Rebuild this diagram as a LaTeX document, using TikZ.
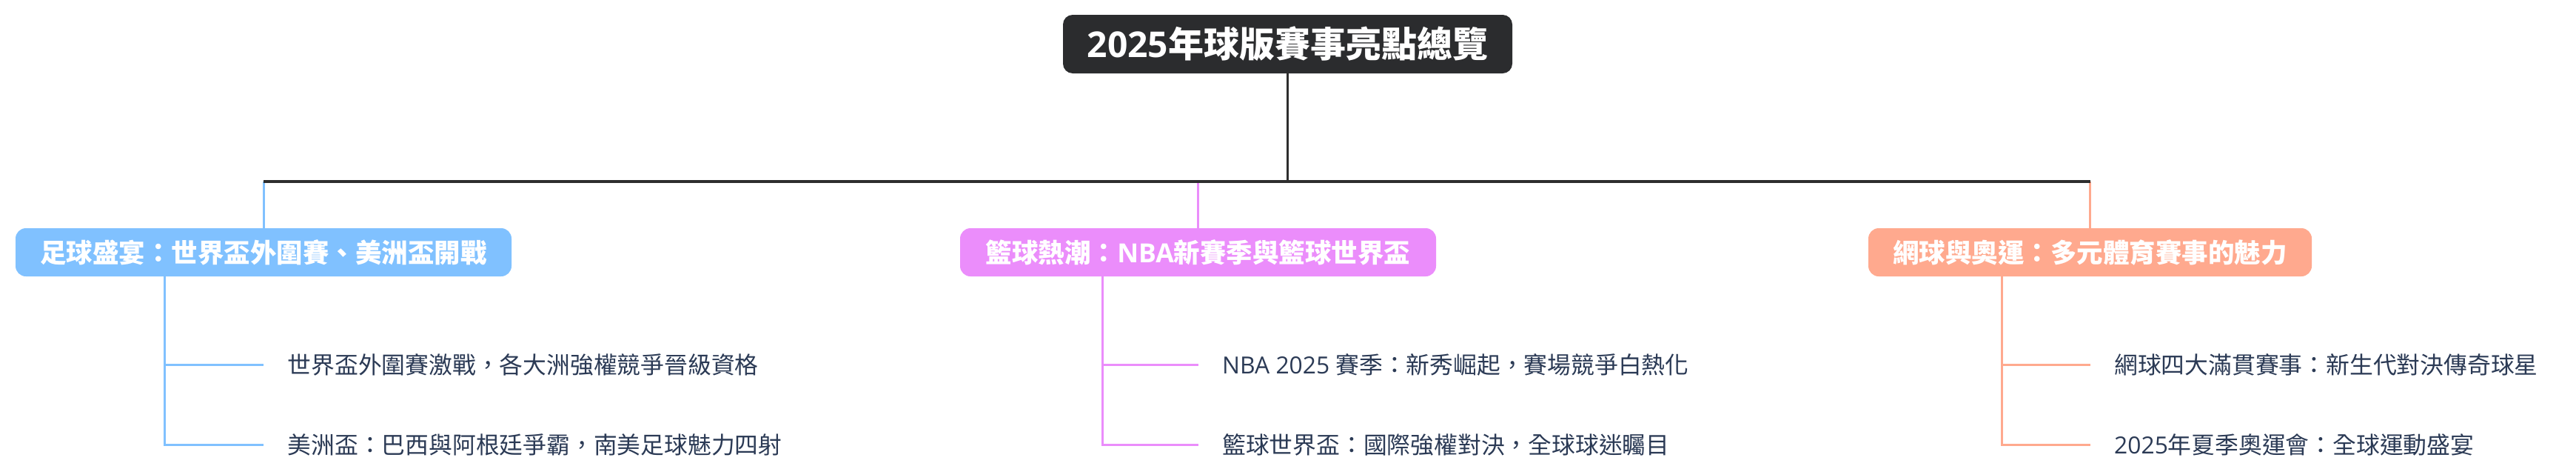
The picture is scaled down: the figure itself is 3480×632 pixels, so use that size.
\documentclass[tikz,border=0pt]{standalone}
\usepackage{fontspec}
\setmainfont{Noto Sans CJK TC}[Script=CJK, Language=Chinese Traditional]
\newfontfamily\lat{Open Sans}
\definecolor{rootc}{HTML}{2B2C2E}
\definecolor{barc}{HTML}{2E2E2E}
\definecolor{bluec}{HTML}{80C1FF}
\definecolor{pinkc}{HTML}{EB8DFB}
\definecolor{salc}{HTML}{FFA98E}
\definecolor{leafc}{HTML}{2B3A55}
\tikzset{
  rootbox/.style={fill=rootc, rounded corners=13pt, text=white,
    font=\fontsize{48}{56}\selectfont\bfseries, minimum width=607pt,
    minimum height=79pt, inner sep=0pt},
  catbox/.style={rounded corners=14pt, text=white,
    font=\fontsize{35.5}{42}\selectfont\bfseries, minimum height=65pt, inner sep=0pt},
  leaf/.style={anchor=west, text=leafc, font=\fontsize{31.8}{38}\selectfont,
    inner xsep=32.5pt, inner ysep=0pt},
  barline/.style={draw=barc, line width=3.5pt},
  conn/.style={line width=3pt},
}
\begin{document}
\begin{tikzpicture}[x=1pt,y=-1pt]
\useasboundingbox (0,0) rectangle (3480,632);
\node[rootbox] (root) at (1739.5,59.5) {{\lat\bfseries 2025}年球版賽事亮點總覽};
\node[catbox, fill=bluec, minimum width=670pt] (cb) at (356,340.5) {足球盛宴：世界盃外圍賽、美洲盃開戰};
\node[catbox, fill=pinkc, minimum width=643pt] (cp) at (1618.5,340.5) {籃球熱潮：{\lat\bfseries NBA}新賽季與籃球世界盃};
\node[catbox, fill=salc, minimum width=599pt] (cs) at (2823.5,340.5) {網球與奧運：多元體育賽事的魅力};

\node[leaf] (lb1) at (356,492) {世界盃外圍賽激戰，各大洲強權競爭晉級資格};
\node[leaf] (lb2) at (356,600) {美洲盃：巴西與阿根廷爭霸，南美足球魅力四射};
\node[leaf] (lp1) at (1618.5,492) {{\lat NBA 2025 }賽季：新秀崛起，賽場競爭白熱化};
\node[leaf] (lp2) at (1618.5,600) {籃球世界盃：國際強權對決，全球球迷矚目};
\node[leaf] (ls1) at (2823.5,492) {網球四大滿貫賽事：新生代對決傳奇球星};
\node[leaf] (ls2) at (2823.5,600) {{\lat 2025}年夏季奧運會：全球運動盛宴};

\coordinate (bar) at (1739.5,245);
\draw[conn, bluec] (cb.north) -- (cb.north |- bar);
\draw[conn, pinkc] (cp.north) -- (cp.north |- bar);
\draw[conn, salc] (cs.north) -- (cs.north |- bar);
\draw[barline] (root.south) -- (bar);
\draw[barline] (bar -| cb.north) -- (bar -| cs.north);

\draw[conn, bluec] ([xshift=-134pt]cb.south) |- (lb1.west);
\draw[conn, bluec] ([xshift=-134pt]cb.south) |- (lb2.west);
\draw[conn, pinkc] ([xshift=-129.5pt]cp.south) |- (lp1.west);
\draw[conn, pinkc] ([xshift=-129.5pt]cp.south) |- (lp2.west);
\draw[conn, salc] ([xshift=-119.5pt]cs.south) |- (ls1.west);
\draw[conn, salc] ([xshift=-119.5pt]cs.south) |- (ls2.west);
\end{tikzpicture}
\end{document}
